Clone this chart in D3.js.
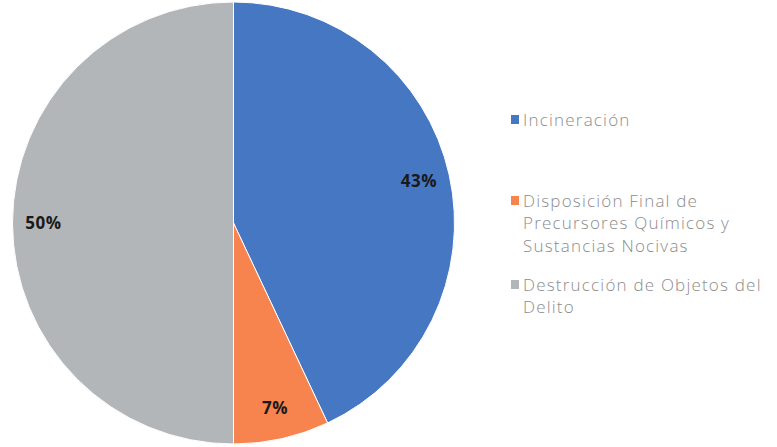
<!DOCTYPE html>
<html>
<head>
<meta charset="utf-8">
<script src="https://cdn.jsdelivr.net/npm/d3@7"></script>
<style>
  body { margin: 0; background: #fff; }
</style>
</head>
<body>
<div id="wrapper"></div>
<script>
// data
const categories = ["Incineración", "Disposición Final de Precursores Químicos y Sustancias Nocivas", "Destrucción de Objetos del Delito"]
const values = [43, 7, 50]
const legendLines = [
  ["Incineración"],
  ["Disposición Final de", "Precursores Químicos y", "Sustancias Nocivas"],
  ["Destrucción de Objetos del", "Delito"]
]
const colors = ["#4677c2", "#f7834f", "#b3b6b9"]

function drawPie() {
  const width = 777, height = 447
  const cx = 233.5, cy = 223, radius = 221

  const svg = d3.select("#wrapper").append("svg")
    .attr("width", width)
    .attr("height", height)

  const pie = d3.pie().sort(null).value(d => d)
  const arcs = pie(values)

  const arc = d3.arc().innerRadius(0).outerRadius(radius)
  const labelArc = d3.arc().innerRadius(radius * 0.86).outerRadius(radius * 0.86)

  const g = svg.append("g").attr("transform", `translate(${cx},${cy})`)

  g.selectAll("path")
    .data(arcs)
    .join("path")
      .attr("d", arc)
      .attr("fill", (d, i) => colors[i])
      .attr("stroke", "#fff")
      .attr("stroke-width", 1)

  g.selectAll("text")
    .data(arcs)
    .join("text")
      .attr("transform", d => `translate(${labelArc.centroid(d)})`)
      .attr("text-anchor", "middle")
      .attr("dy", "0.35em")
      .style("font-family", "'Open Sans', sans-serif")
      .style("font-weight", 700)
      .style("font-size", "17px")
      .style("letter-spacing", "0.5px")
      .attr("fill", "#1a1a1a")
      .text(d => d.data + "%")

  // legend
  const legendX = 511
  const legendTops = [120, 201, 285]
  const lineH = 22.5

  const legend = svg.append("g")
  legendLines.forEach((lines, i) => {
    const item = legend.append("g").attr("transform", `translate(${legendX},${legendTops[i]})`)
    item.append("rect")
      .attr("x", 0).attr("y", -5)
      .attr("width", 8).attr("height", 9)
      .attr("fill", colors[i])
    const t = item.append("text")
      .style("font-family", "'Open Sans', sans-serif")
      .style("font-weight", 300)
      .style("font-size", "17px")
      .style("letter-spacing", "1.2px")
      .attr("fill", "#8c8c8c")
    lines.forEach((ln, j) => {
      t.append("tspan")
        .attr("x", 12)
        .attr("y", j * lineH)
        .attr("dy", "0.35em")
        .text(ln)
    })
  })
}
drawPie()
</script>
</body>
</html>
